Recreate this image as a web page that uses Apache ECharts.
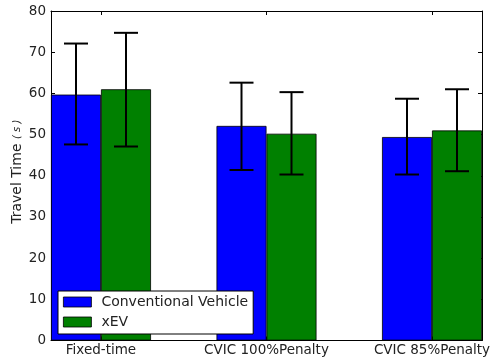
<!DOCTYPE html>
<html><head><meta charset="utf-8">
<script src="https://cdn.jsdelivr.net/npm/echarts@6/dist/echarts.min.js"></script>
<style>html,body{margin:0;padding:0;background:#fff}#c{width:495px;height:358px}</style>
</head><body><div id="c"></div>
<script>
const categories = ["Fixed-time", "CVIC 100%Penalty", "CVIC 85%Penalty"];
const seriesNames = ["Conventional Vehicle", "xEV"];
const conventional = [59.7, 52.1, 49.4];
const xev = [61.0, 50.2, 51.0];
const convLow = [47.6, 41.4, 40.3];
const convHigh = [72.1, 62.6, 58.7];
const xevLow = [47.1, 40.3, 41.1];
const xevHigh = [74.7, 60.3, 61.0];
const yTicks = [0, 10, 20, 30, 40, 50, 60, 70, 80];

const BAR_W = 50;
const chart = echarts.init(document.getElementById('c'));
const font = 'DejaVu Sans';

function errSeries(low, high, side) {
  return {
    type: 'custom',
    xAxisIndex: 0, yAxisIndex: 0,
    z: 10,
    data: categories.map((c, i) => [i, low[i], high[i]]),
    renderItem: function (params, api) {
      const pLow = api.coord([api.value(0), api.value(1)]);
      const pHigh = api.coord([api.value(0), api.value(2)]);
      const x = pLow[0] + side * BAR_W / 2;
      const cap = 12;
      const st = { stroke: '#000', lineWidth: 2 };
      return {
        type: 'group',
        children: [
          { type: 'line', shape: { x1: x, y1: pLow[1], x2: x, y2: pHigh[1] }, style: st },
          { type: 'line', shape: { x1: x - cap, y1: pLow[1], x2: x + cap, y2: pLow[1] }, style: st },
          { type: 'line', shape: { x1: x - cap, y1: pHigh[1], x2: x + cap, y2: pHigh[1] }, style: st }
        ]
      };
    }
  };
}

const option = {
  animation: false,
  textStyle: { fontFamily: font },
  grid: { left: 51, right: 13, top: 11, bottom: 17.5, containLabel: false, outerBoundsMode: 'none' },
  legend: {
    orient: 'vertical',
    left: 58, top: 291,
    padding: [4, 5, 5, 5],
    itemWidth: 28, itemHeight: 10, itemGap: 6,
    icon: 'rect',
    borderColor: '#000', borderWidth: 1, borderRadius: 0,
    backgroundColor: '#fff',
    data: seriesNames,
    textStyle: { fontFamily: font, fontSize: 14, color: '#222', padding: [0, 0, 0, 5] },
    itemStyle: { borderColor: '#000', borderWidth: 0.8 }
  },
  xAxis: [{
    type: 'value',
    min: -0.302, max: 2.302,
    splitLine: { show: false },
    axisLine: { show: true, onZero: false, lineStyle: { color: '#000', width: 1 } },
    axisTick: { show: true, inside: true, length: 4, customValues: [0, 1, 2], lineStyle: { color: '#000' } },
    axisLabel: {
      customValues: [0, 1, 2],
      formatter: v => categories[Math.round(v)],
      fontFamily: font, fontSize: 13.5, color: '#222', margin: 3
    }
  }, {
    type: 'value', position: 'top',
    min: -0.302, max: 2.302,
    splitLine: { show: false },
    axisLine: { show: true, onZero: false, lineStyle: { color: '#000' } },
    axisTick: { show: true, inside: true, length: 4, customValues: [0, 1, 2], lineStyle: { color: '#000' } },
    axisLabel: { show: false }
  }],
  yAxis: [{
    type: 'value', min: 0, max: 80, interval: 10, position: 'left',
    name: '{a|Travel Time }{b|( s )}',
    nameLocation: 'middle', nameGap: 27, nameRotate: 90, nameMoveOverlap: false,
    nameTextStyle: { padding: [0, 0, 0, 8], rich: { a: { fontFamily: font, fontSize: 14, color: '#222' }, b: { fontFamily: font, fontSize: 10, fontStyle: 'italic', color: '#222' } } },
    splitLine: { show: false },
    axisLine: { show: true, onZero: false, lineStyle: { color: '#000' } },
    axisTick: { show: true, inside: true, length: 4, lineStyle: { color: '#000' } },
    axisLabel: { fontFamily: font, fontSize: 13.5, color: '#222', margin: 5, formatter: v => yTicks.includes(v) ? String(v) : '' }
  }, {
    type: 'value', min: 0, max: 80, interval: 10, position: 'right',
    splitLine: { show: false },
    axisLine: { show: true, onZero: false, lineStyle: { color: '#000' } },
    axisTick: { show: true, inside: true, length: 4, lineStyle: { color: '#000' } },
    axisLabel: { show: false }
  }],
  series: [{
    name: seriesNames[0], type: 'bar',
    barWidth: BAR_W, barGap: '0%',
    itemStyle: { color: '#0000ff', borderColor: '#000', borderWidth: 0.8 },
    data: categories.map((c, i) => [i, conventional[i]])
  }, {
    name: seriesNames[1], type: 'bar',
    barWidth: BAR_W, barGap: '0%',
    itemStyle: { color: '#008000', borderColor: '#000', borderWidth: 0.8 },
    data: categories.map((c, i) => [i, xev[i]])
  },
  errSeries(convLow, convHigh, -1),
  errSeries(xevLow, xevHigh, 1)
  ]
};
chart.setOption(option);
</script>
</body></html>
